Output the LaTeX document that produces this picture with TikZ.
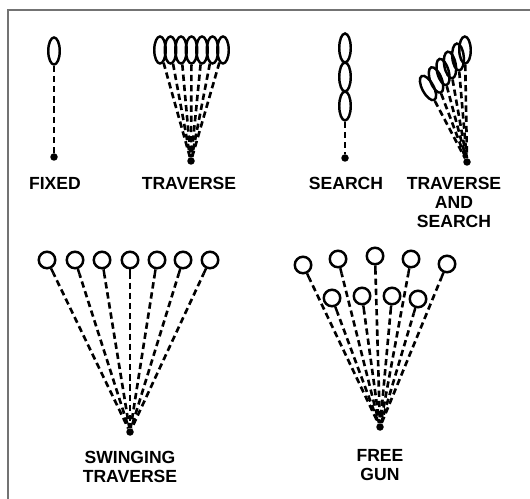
\documentclass[tikz,border=0pt]{standalone}
\usepackage{fontspec}
\setmainfont{Liberation Sans}
\usetikzlibrary{shapes.geometric,calc}
\begin{document}
\begin{tikzpicture}[x=0.02cm,y=-0.02cm,
  font=\fontsize{10}{10.8}\selectfont\bfseries,
  lens/.style={draw,ellipse,line width=1.4pt,inner sep=0pt,minimum width=0.23cm,minimum height=0.54cm},
  ring/.style={draw,circle,line width=1.4pt,inner sep=0pt,minimum size=0.33cm},
  gun/.style={circle,fill,inner sep=0pt,minimum size=0.15cm},
  fire/.style={dash pattern=on 3.6pt off 2.2pt,line width=1.5pt},
  stem/.style={line width=1.4pt},
  lbl/.style={align=center}]
  \useasboundingbox (0,0) rectangle (530,499);
  \draw[line width=1.2pt,black!55] (8,499) -- (8,10) -- (530,10);
  % fixed
  \node[lens] (fx) at (54,51) {};
  \node[gun] (fxg) at (54,157) {};
  \draw[fire] (fx) -- (fxg);
  \node[lbl] (fxt) at (55,183) {FIXED};
  % traverse
  \node[gun] (trg) at (191,161) {};
  \foreach \i in {0,...,6} {
    \node[lens] (tr\i) at (160+10.5*\i,50) {};
    \draw[fire] (tr\i) -- (trg);
  }
  \node[lbl] (trt) at (189,183) {TRAVERSE};
  % search
  \node[lens,minimum height=0.58cm] (se1) at (345,48) {};
  \node[lens,minimum height=0.58cm] (se2) at (345,77) {};
  \node[lens,minimum height=0.58cm] (se3) at (345,106) {};
  \node[gun] (seg) at (345,158) {};
  \draw[fire] (se3) -- (seg);
  \node[lbl] (set) at (346,183) {SEARCH};
  % traverse and search
  \node[gun] (tsg) at (467,162) {};
  \foreach \x/\y/\a [count=\i] in {428/88/28,436/80/21,443/72/15,450/65/10,458/57/5,465/50/1} {
    \node[lens,rotate=\a] (ts\i) at (\x,\y) {};
    \draw[fire] (ts\i) -- (tsg);
  }
  \node[lbl] (tst) at (454,202) {TRAVERSE\\AND\\SEARCH};
  % swinging traverse
  \node[gun] (swg) at (130,432) {};
  \foreach \x [count=\i] in {47,75,102,130,157,183,210} {
    \node[ring] (sw\i) at (\x,260) {};
    \draw[stem] (sw\i) -- ($(sw\i.center)!0.3cm!(swg)$) coordinate (sws\i);
    \draw[fire,dash phase=1.5pt] (sws\i) -- (swg);
  }
  \node[lbl] (swt) at (130,467) {SWINGING\\TRAVERSE};
  % free gun
  \node[gun] (fgg) at (380,427) {};
  \foreach \x/\y [count=\i] in {303/265,338/259,375/256,411/259,447/264,332/298,362/296,392/296,418/299} {
    \node[ring] (fg\i) at (\x,\y) {};
    \draw[stem] (fg\i) -- ($(fg\i.center)!0.3cm!(fgg)$) coordinate (fgs\i);
    \draw[fire,dash phase=1.5pt] (fgs\i) -- (fgg);
  }
  \node[lbl] (fgt) at (380,465) {FREE\\GUN};
\end{tikzpicture}
\end{document}
